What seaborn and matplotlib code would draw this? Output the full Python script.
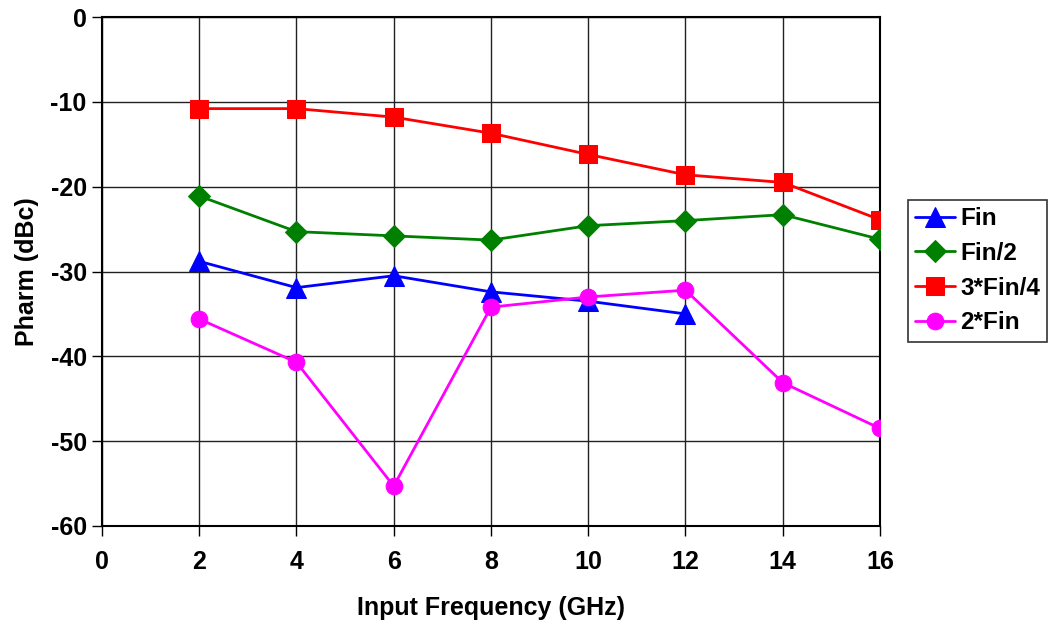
import matplotlib
matplotlib.use("Agg")
import matplotlib.pyplot as plt
import seaborn as sns
import pandas as pd

freq = [2, 4, 6, 8, 10, 12, 14, 16]
fin = [-28.8, -31.9, -30.5, -32.4, -33.5, -35.0]
fin_half = [-21.1, -25.3, -25.8, -26.3, -24.6, -24.0, -23.3, -26.2]
fin_3q = [-10.8, -10.8, -11.8, -13.7, -16.2, -18.6, -19.5, -23.9]
fin_2x = [-35.6, -40.7, -55.3, -34.2, -33.0, -32.2, -43.1, -48.5]

series_names = ["Fin", "Fin/2", "3*Fin/4", "2*Fin"]
series_vals = [fin, fin_half, fin_3q, fin_2x]
colors = ["#0000FF", "#008000", "#FF0000", "#FF00FF"]
markers = ["^", "D", "s", "o"]
msizes = [14, 11, 13, 12]

rows = []
for name, vals in zip(series_names, series_vals):
    for f, v in zip(freq, vals):
        rows.append({"freq": f, "val": v, "series": name})
df = pd.DataFrame(rows)

sns.set_style("white")
plt.rcParams["font.family"] = ["Liberation Sans", "DejaVu Sans"]
plt.rcParams["font.weight"] = "bold"
plt.rcParams["axes.unicode_minus"] = False
plt.rcParams["text.color"] = "black"
plt.rcParams["axes.labelcolor"] = "black"
plt.rcParams["xtick.color"] = "black"
plt.rcParams["ytick.color"] = "black"

fig = plt.figure(figsize=(10.5, 6.23), dpi=100)
ax = fig.add_axes([0.0971, 0.1557, 0.7410, 0.8170])

for name, c, m, ms in zip(series_names, colors, markers, msizes):
    sub = df[df["series"] == name]
    sns.lineplot(data=sub, x="freq", y="val", ax=ax, color=c, marker=m,
                 markersize=ms, markeredgecolor=c, linewidth=2, label=name,
                 sort=False, zorder=3)

ax.set_xlim(0, 16)
ax.set_ylim(-60, 0)
ax.set_xticks(range(0, 17, 2))
ax.set_yticks(range(-60, 1, 10))
ax.grid(True, color="#222222", linewidth=1)
for s in ax.spines.values():
    s.set_color("black")
    s.set_linewidth(1.5)
ax.tick_params(axis="both", which="both", direction="out", length=7, width=1,
               color="black", labelsize=18, left=True, bottom=True)
ax.tick_params(axis="x", pad=10)
ax.tick_params(axis="y", pad=4)
for lab in ax.get_xticklabels() + ax.get_yticklabels():
    lab.set_fontweight("bold")
ax.set_xlabel("Input Frequency (GHz)", fontsize=18, fontweight="bold", labelpad=16)
ax.set_ylabel("Pharm (dBc)", fontsize=18, fontweight="bold", labelpad=8)

leg = ax.legend(loc="upper left", bbox_to_anchor=(908 / 1050, 1 - 200 / 623),
                bbox_transform=fig.transFigure, frameon=True,
                fancybox=False, edgecolor="black", fontsize=17.5, handlelength=1.65,
                borderaxespad=0, labelspacing=0.48, handletextpad=0.2,
                borderpad=0.3)
leg.get_frame().set_linewidth(1.2)
for t in leg.get_texts():
    t.set_fontweight("bold")

fig.savefig("out.png", dpi=100)
